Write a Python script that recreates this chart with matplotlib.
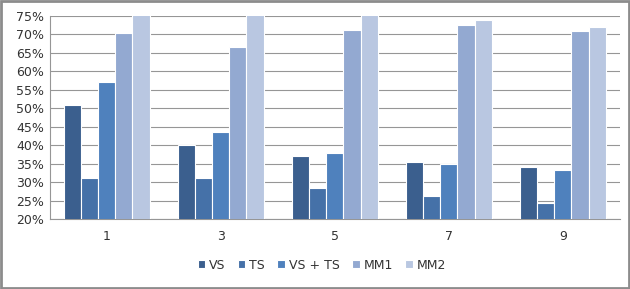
import numpy as np
import matplotlib.pyplot as plt
from matplotlib.patches import Rectangle
from matplotlib.ticker import PercentFormatter

groups = ["1", "3", "5", "7", "9"]
vs = [51.0, 40.0, 37.0, 35.5, 34.0]
ts = [31.0, 31.0, 28.5, 26.2, 24.3]
vs_ts = [57.0, 43.5, 38.0, 35.0, 33.3]
mm1 = [70.5, 66.5, 71.3, 72.5, 71.0]
mm2 = [78.0, 78.0, 78.0, 74.0, 72.0]

series = [("VS", vs, "#3b5f8e"), ("TS", ts, "#4571a8"), ("VS + TS", vs_ts, "#4f81bd"),
          ("MM1", mm1, "#93a9d1"), ("MM2", mm2, "#b9c7e1")]

fig = plt.figure(figsize=(6.3, 2.89), dpi=100)
ax = fig.add_axes([0.079, 0.242, 0.905, 0.703])

x = np.arange(len(groups))
w = 0.15
for i, (name, vals, col) in enumerate(series):
    ax.bar(x + (i - 2) * w, vals, w, color=col, edgecolor="white", linewidth=0.8,
           label=name, zorder=3)

ax.set_ylim(20, 75)
ax.set_xlim(-0.5, len(groups) - 0.5)
ax.set_yticks(np.arange(20, 76, 5))
ax.yaxis.set_major_formatter(PercentFormatter(decimals=0))
ax.set_xticks(x)
ax.set_xticklabels(groups)
ax.grid(axis="y", color="#969696", linewidth=0.8, zorder=0)
for s in ["top", "right"]:
    ax.spines[s].set_visible(False)
ax.spines["left"].set_color("#969696")
ax.spines["bottom"].set_color("#969696")
ax.tick_params(axis="y", length=0, labelsize=9, colors="#333333", pad=4)
ax.tick_params(axis="x", length=0, labelsize=9, colors="#333333", pad=8)

ax.legend(loc="center", bbox_to_anchor=(0.477, -0.227), ncol=5, frameon=False,
          fontsize=9, handlelength=0.6, handleheight=0.6, handletextpad=0.3,
          columnspacing=1.0, labelcolor="#333333")

fig.patches.append(Rectangle((0.002, 0.004), 0.996, 0.992, transform=fig.transFigure,
                             fill=False, edgecolor="#8c8c8c", linewidth=2))

fig.savefig("out.png", dpi=100)
